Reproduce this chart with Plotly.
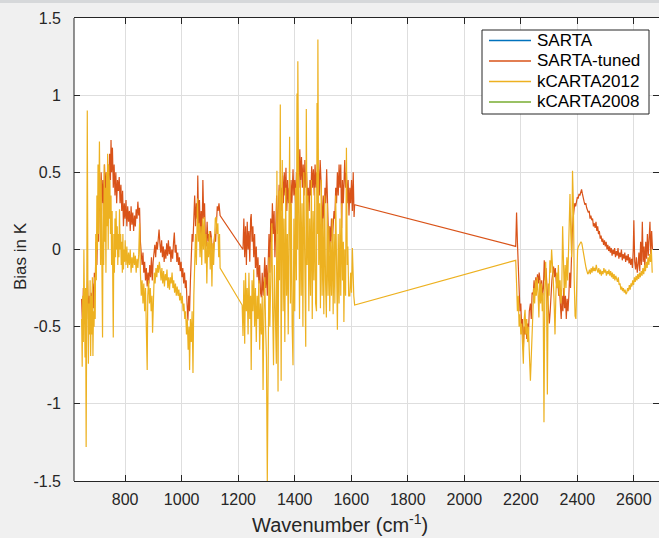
import plotly.graph_objects as go

# ---------------- data ----------------
# SARTA and kCARTA2008 show no visible marks in the reference (legend only)
sarta_wn = [650]
sarta_bias = [None]
k08_wn = [650]
k08_bias = [None]

series_names = ["SARTA", "SARTA-tuned", "kCARTA2012", "kCARTA2008"]
series_colors = ["#0072BD", "#D95319", "#EDB120", "#77AC30"]

tuned_wn = [
    646, 649, 652, 655, 658, 661, 664, 667, 670, 673, 676, 679, 682, 685, 688, 691, 694, 697, 700, 703,
    706, 709, 712, 715, 718, 721, 724, 727, 730, 733, 736, 739, 742, 745, 748, 750, 752, 755, 758, 761,
    764, 767, 770, 773, 776, 779, 782, 785, 788, 791, 794, 797, 800, 803, 806, 809, 812, 815, 818, 821,
    824, 827, 830, 833, 836, 839, 842, 845, 848, 851, 854, 857, 860, 863, 866, 869, 872, 875, 878, 881,
    884, 887, 890, 893, 896, 899, 902, 905, 908, 911, 914, 917, 920, 923, 926, 929, 932, 935, 938, 941,
    944, 947, 950, 953, 956, 959, 962, 965, 968, 971, 974, 977, 980, 983, 986, 989, 992, 995, 998, 1001,
    1004, 1007, 1010, 1013, 1016, 1019, 1022, 1025, 1028, 1031, 1034, 1037, 1040, 1043, 1046, 1049, 1052, 1055, 1057, 1060,
    1063, 1066, 1069, 1072, 1075, 1078, 1081, 1084, 1087, 1090, 1093, 1096, 1099, 1102, 1105, 1108, 1111, 1114, 1117, 1120,
    1123, 1126, 1129, 1132, 1136,
    1217, 1220, 1223, 1226, 1229, 1232, 1235, 1238, 1241, 1244, 1246, 1249, 1252, 1255, 1258, 1261, 1264, 1267, 1270, 1273,
    1276, 1279, 1282, 1285, 1288, 1291, 1294, 1297, 1300, 1303, 1306, 1309, 1312, 1315, 1318, 1321, 1324, 1327, 1330, 1333,
    1336, 1339, 1342, 1345, 1348, 1351, 1354, 1357, 1360, 1363, 1366, 1369, 1372, 1375, 1378, 1381, 1384, 1387, 1390, 1394,
    1397, 1400, 1403, 1406, 1409, 1412, 1415, 1418, 1421, 1424, 1427, 1430, 1433, 1436, 1439, 1442, 1445, 1448, 1451, 1454,
    1457, 1460, 1463, 1466, 1469, 1472, 1475, 1478, 1481, 1484, 1487, 1490, 1493, 1496, 1498, 1501, 1504, 1507, 1510, 1513,
    1516, 1519, 1521, 1524, 1527, 1530, 1533, 1536, 1539, 1542, 1545, 1548, 1551, 1554, 1557, 1560, 1563, 1566, 1569, 1572,
    1575, 1577, 1580, 1583, 1586, 1589, 1592, 1595, 1598, 1601, 1604, 1607, 1610, 1612,
    2182, 2185, 2188, 2191, 2194, 2197, 2200, 2203, 2206, 2209, 2212, 2215, 2218, 2221, 2224, 2227, 2230, 2234, 2237, 2240,
    2244, 2247, 2250, 2253, 2256, 2259, 2262, 2265, 2268, 2271, 2274, 2277, 2280, 2283, 2286, 2289, 2292, 2295, 2298, 2301,
    2304, 2307, 2310, 2313, 2316, 2319, 2322, 2325, 2328, 2331, 2334, 2337, 2340, 2343, 2346, 2349, 2352, 2355, 2358, 2361,
    2364, 2367, 2370, 2373, 2376, 2379, 2382, 2385, 2388, 2391, 2394, 2397, 2400, 2403, 2406, 2409, 2412, 2415, 2418, 2421,
    2424, 2427, 2430, 2433, 2436, 2439, 2442, 2445, 2448, 2451, 2454, 2457, 2460, 2463, 2466, 2469, 2472, 2475, 2478, 2481,
    2484, 2487, 2490, 2493, 2496, 2499, 2502, 2505, 2508, 2511, 2514, 2517, 2520, 2523, 2526, 2529, 2532, 2535, 2538, 2541,
    2544, 2547, 2550, 2553, 2556, 2559, 2562, 2565, 2568, 2571, 2574, 2577, 2580, 2583, 2586, 2589, 2592, 2595, 2598, 2600,
    2603, 2606, 2609, 2612, 2615, 2618, 2621, 2624, 2627, 2630, 2633, 2636, 2639, 2642, 2645, 2648, 2651, 2654, 2657, 2660,
    2663, 2666,
]
tuned_bias = [
    -0.32, -0.50, -0.25, -0.45, -0.30, -0.55, -0.35, -0.20, -0.45, -0.30, -0.50, -0.28, -0.42, -0.22, -0.38, -0.15, -0.25, 0.05, -0.10, 0.20,
    0.05, 0.40, 0.25, 0.50, 0.30, 0.45, 0.20, 0.55, 0.35, 0.50, 0.30, 0.55, 0.40, 0.62, 0.45, 0.71, 0.50, 0.66, 0.40, 0.55,
    0.35, 0.50, 0.30, 0.45, 0.38, 0.47, 0.30, 0.42, 0.25, 0.38, 0.15, 0.30, 0.20, 0.32, 0.15, 0.28, 0.18, 0.25, 0.12, 0.28,
    0.16, 0.24, 0.12, 0.22, 0.15, 0.26, 0.20, 0.31, 0.22, 0.27, 0.05, -0.05, -0.10, -0.02, -0.15, -0.08, -0.20, -0.12, -0.24, -0.15,
    -0.22, -0.10, -0.18, -0.05, -0.20, -0.08, -0.02, 0.03, -0.05, 0.05, 0.00, 0.08, 0.13, 0.04, -0.02, 0.06, -0.05, 0.02, -0.08, 0.00,
    -0.06, 0.04, -0.04, 0.06, -0.03, 0.02, -0.08, 0.00, -0.06, 0.04, 0.11, -0.02, 0.03, -0.08, -0.02, -0.10, -0.05, -0.14, -0.08, -0.18,
    -0.12, -0.22, -0.15, -0.25, -0.20, -0.35, -0.46, -0.30, -0.40, -0.20, -0.05, 0.10, 0.05, 0.25, 0.35, 0.15, 0.30, 0.20, 0.48, 0.15,
    0.32, 0.10, 0.25, 0.05, 0.45, 0.20, 0.30, 0.05, 0.02, 0.18, 0.05, 0.10, 0.03, 0.12, 0.08, -0.02, -0.07, 0.04, 0.10, 0.05,
    0.20, 0.28, 0.25, 0.30, 0.22,
    0.00, 0.20, -0.05, 0.15, -0.10, 0.18, 0.00, 0.12, -0.08, 0.20, 0.23, 0.05, 0.15, -0.05, 0.10, -0.12, 0.02, -0.18, -0.05, -0.22,
    -0.10, -0.28, -0.31, -0.15, -0.30, -0.20, -0.05, -0.25, -0.10, -0.30, -0.05, 0.10, -0.15, 0.20, 0.05, 0.30, 0.10, 0.25, -0.05, 0.20,
    0.35, 0.10, 0.30, 0.42, 0.20, 0.40, 0.25, 0.48, 0.30, 0.50, 0.35, 0.53, 0.25, 0.45, 0.30, 0.40, 0.20, 0.45, 0.30, 0.52,
    0.35, 0.45, 0.30, 0.50, 0.35, 0.55, 0.40, 0.65, 0.45, 0.60, 0.40, 0.55, 0.35, 0.58, 0.40, 0.50, 0.30, 0.40, 0.25, 0.45,
    0.35, 0.54, 0.40, 0.52, 0.35, 0.55, 0.40, 0.50, 0.30, 0.52, 0.35, 0.58, 0.45, 0.20, 0.13, 0.35, 0.20, 0.40, 0.30, 0.52,
    0.25, 0.10, -0.02, 0.15, 0.05, 0.20, 0.04, 0.15, 0.25, 0.20, 0.40, 0.30, 0.50, 0.35, 0.55, 0.40, 0.55, 0.14, 0.45, 0.30,
    0.50, 0.58, 0.40, 0.50, 0.30, 0.45, 0.22, 0.40, 0.30, 0.45, 0.25, 0.50, 0.21, 0.29,
    0.02, 0.24, 0.05, -0.15, -0.29, -0.40, -0.35, -0.50, -0.45, -0.65, -0.50, -0.55, -0.45, -0.58, -0.48, -0.55, -0.40, -0.35, -0.45, -0.28,
    -0.29, -0.20, -0.30, -0.18, -0.25, -0.16, -0.22, -0.15, -0.20, -0.28, -0.20, -0.30, -0.25, -0.07, -0.20, -0.12, -0.22, -0.30, -0.35, -0.48,
    -0.40, -0.26, -0.20, -0.15, -0.11, -0.18, -0.12, -0.20, -0.25, -0.18, -0.30, -0.26, -0.36, -0.45, -0.30, -0.40, -0.25, -0.38, -0.30, -0.45,
    -0.32, -0.40, -0.30, -0.15, -0.25, 0.00, 0.10, 0.20, 0.25, 0.30, 0.28, 0.32, 0.34, 0.33, 0.36, 0.35, 0.38, 0.39, 0.36, 0.32,
    0.31, 0.29, 0.30, 0.27, 0.26, 0.24, 0.25, 0.20, 0.22, 0.19, 0.20, 0.15, 0.17, 0.14, 0.18, 0.12, 0.15, 0.10, 0.12, 0.07,
    0.09, 0.05, 0.07, 0.03, 0.06, 0.02, 0.05, 0.00, 0.03, -0.01, 0.02, -0.02, 0.01, -0.04, 0.00, -0.03, 0.01, -0.05, -0.01, -0.04,
    0.01, -0.06, -0.02, -0.05, 0.00, -0.07, -0.03, -0.06, -0.02, -0.08, -0.04, -0.07, -0.03, -0.09, -0.05, -0.10, -0.06, -0.12, 0.00, 0.19,
    -0.08, -0.13, -0.05, -0.15, -0.10, -0.02, -0.14, 0.05, -0.10, 0.18, -0.08, 0.02, -0.12, 0.05, -0.06, 0.10, -0.04, 0.08, 0.18, -0.03,
    0.12, 0.00,
]

k12_wn = [
    646, 648, 650, 652, 654, 656, 658, 660, 662, 664, 666, 668, 670, 672, 674, 676, 678, 680, 682, 684,
    686, 688, 690, 692, 694, 696, 698, 700, 702, 704, 706, 709, 711, 713, 715, 717, 720, 722, 724, 726,
    728, 730, 732, 734, 736, 738, 740, 742, 744, 746, 748, 750, 752, 754, 756, 758, 760, 762, 764, 766,
    768, 770, 772, 774, 776, 778, 780, 782, 784, 786, 788, 790, 792, 794, 796, 798, 800, 803, 806, 809,
    812, 815, 818, 821, 824, 827, 830, 833, 836, 839, 842, 845, 848, 851, 854, 857, 860, 863, 866, 869,
    872, 875, 878, 880, 883, 886, 889, 892, 895, 897, 900, 903, 906, 909, 912, 915, 918, 921, 924, 927,
    930, 933, 936, 939, 942, 945, 948, 951, 954, 957, 960, 963, 966, 969, 972, 975, 978, 981, 984, 987,
    990, 993, 996, 999, 1002, 1005, 1008, 1011, 1014, 1017, 1020, 1023, 1026, 1028, 1031, 1034, 1037, 1040, 1043, 1046,
    1049, 1052, 1056, 1059, 1062, 1065, 1068, 1071, 1074, 1077, 1080, 1083, 1086, 1089, 1092, 1095, 1098, 1101, 1104, 1107,
    1110, 1113, 1116, 1119, 1122, 1125, 1128, 1131, 1134, 1136,
    1214, 1217, 1220, 1223, 1226, 1229, 1232, 1235, 1238, 1241, 1244, 1246, 1249, 1252, 1255, 1258, 1261, 1264, 1267, 1270,
    1273, 1276, 1279, 1282, 1285, 1288, 1291, 1294, 1297, 1300, 1303, 1306, 1309, 1312, 1315, 1319, 1322, 1325, 1328, 1332,
    1335, 1337, 1339, 1341, 1344, 1346, 1349, 1351, 1352, 1354, 1356, 1359, 1362, 1365, 1368, 1371, 1374, 1377, 1380, 1382,
    1385, 1388, 1391, 1394, 1397, 1400, 1403, 1406, 1408, 1410, 1411, 1414, 1417, 1420, 1423, 1426, 1429, 1432, 1435, 1439,
    1441, 1444, 1447, 1450, 1453, 1456, 1459, 1462, 1465, 1468, 1471, 1474, 1477, 1479, 1481, 1482, 1485, 1488, 1491, 1494,
    1497, 1500, 1503, 1506, 1509, 1512, 1515, 1518, 1521, 1524, 1527, 1530, 1533, 1536, 1539, 1542, 1545, 1548, 1551, 1554,
    1557, 1560, 1563, 1566, 1569, 1572, 1574, 1577, 1580, 1583, 1586, 1588, 1591, 1595, 1598, 1601, 1604, 1607, 1609, 1612,
    2182, 2185, 2188, 2191, 2194, 2197, 2200, 2203, 2206, 2209, 2212, 2215, 2218, 2221, 2224, 2227, 2230, 2234, 2237, 2240,
    2243, 2246, 2249, 2252, 2255, 2258, 2261, 2264, 2267, 2270, 2273, 2276, 2279, 2282, 2285, 2288, 2291, 2294, 2297, 2300,
    2303, 2306, 2309, 2312, 2315, 2318, 2321, 2324, 2327, 2330, 2333, 2336, 2339, 2342, 2345, 2348, 2351, 2354, 2357, 2360,
    2363, 2366, 2369, 2372, 2374, 2377, 2380, 2383, 2386, 2389, 2392, 2395, 2398, 2401, 2404, 2407, 2410, 2413, 2416, 2419,
    2422, 2425, 2428, 2431, 2434, 2437, 2440, 2443, 2446, 2449, 2452, 2455, 2458, 2461, 2464, 2467, 2470, 2473, 2476, 2479,
    2482, 2485, 2488, 2491, 2494, 2497, 2500, 2503, 2506, 2509, 2512, 2515, 2518, 2521, 2524, 2527, 2530, 2533, 2536, 2539,
    2542, 2545, 2548, 2551, 2554, 2557, 2560, 2563, 2566, 2569, 2572, 2575, 2578, 2581, 2584, 2587, 2590, 2593, 2596, 2599,
    2602, 2605, 2608, 2611, 2614, 2617, 2620, 2623, 2626, 2629, 2632, 2635, 2638, 2641, 2644, 2647, 2650, 2653, 2656, 2659,
    2662, 2665,
]
k12_bias = [
    -0.45, -0.76, -0.30, -0.60, 0.00, -0.40, -0.70, -0.25, -1.28, -0.40, 0.90, -0.20, -0.74, -0.35, -0.55, -0.20, -0.69, -0.30, -0.55, -0.18,
    -0.69, -0.40, -0.50, -0.18, -0.45, 0.10, -0.20, 0.35, 0.00, 0.55, 0.10, 0.70, 0.20, -0.10, 0.45, -0.20, -0.57, 0.30, -0.10, 0.55,
    0.05, 0.40, -0.15, 0.50, 0.15, 0.62, 0.00, 0.55, 0.20, 0.45, 0.10, 0.35, -0.10, 0.25, -0.30, -0.57, 0.10, -0.15, 0.20, -0.05,
    0.25, 0.00, 0.15, -0.10, 0.10, -0.05, 0.26, 0.00, 0.10, -0.10, 0.05, -0.15, 0.10, -0.13, 0.00, -0.08, 0.06, -0.10, 0.02, -0.12,
    -0.02, -0.10, 0.00, -0.15, -0.05, -0.12, -0.02, -0.10, -0.04, -0.15, -0.06, -0.12, -0.03, 0.17, -0.15, -0.30, -0.20, -0.35, -0.22, -0.40,
    -0.25, -0.45, -0.78, -0.30, -0.20, -0.35, -0.25, -0.40, -0.30, -0.54, -0.25, -0.15, -0.22, -0.12, -0.18, -0.10, -0.15, -0.08, -0.13, -0.20,
    -0.12, -0.22, -0.14, -0.24, -0.16, -0.20, -0.13, -0.25, -0.18, -0.26, -0.18, -0.22, -0.15, -0.25, -0.20, -0.28, -0.22, -0.30, -0.24, -0.30,
    -0.26, -0.33, -0.28, -0.35, -0.30, -0.40, -0.35, -0.45, -0.40, -0.55, -0.45, -0.65, -0.50, -0.78, -0.45, -0.60, -0.40, -0.80, -0.30, 0.00,
    0.10, -0.10, 0.33, 0.05, 0.17, -0.05, 0.15, -0.10, 0.20, 0.00, 0.21, -0.09, 0.10, -0.22, 0.05, -0.05, 0.12, -0.13, 0.08, -0.24,
    0.04, -0.10, 0.08, 0.20, 0.21, 0.10, 0.17, -0.05, 0.10, -0.12,
    -0.36, -0.56, -0.20, -0.61, -0.15, -0.40, -0.25, -0.55, -0.15, -0.45, -0.30, -0.78, -0.20, -0.40, -0.13, -0.50, -0.25, -0.60, -0.30, -0.45,
    -0.20, -0.65, -0.35, -0.55, -0.30, -0.91, -0.40, -0.18, -0.50, -0.70, -1.50, -0.30, -0.05, -0.50, -0.20, 0.17, -0.40, -0.75, -0.10, -0.60,
    -0.74, 0.51, -0.30, -0.92, 0.38, -0.20, 0.94, -0.50, -0.85, 0.10, 0.58, -0.40, 0.20, -0.60, 0.40, -0.30, 0.10, -0.55, 0.25, 0.73,
    -0.35, 0.30, -0.50, -0.75, 0.20, -0.40, 0.40, -0.20, 1.01, 0.00, 1.22, 0.10, -0.45, 0.45, -0.30, 0.30, -0.50, 0.50, -0.20, -0.63,
    0.91, -0.10, 0.35, -0.40, 0.20, -0.30, 0.45, -0.45, 0.25, -0.20, 0.40, -0.35, -0.40, 0.95, 0.10, 1.36, -0.10, 0.30, -0.38, 0.45,
    -0.30, 0.20, -0.42, 0.35, -0.20, -0.44, 0.30, -0.30, 0.15, -0.40, 0.05, -0.30, 0.20, -0.42, 0.10, -0.35, 0.35, -0.25, -0.52, 0.10,
    -0.35, 0.20, -0.30, 0.30, -0.20, 0.05, -0.47, 0.00, -0.30, 0.66, -0.10, 0.02, -0.30, -0.30, -0.15, -0.28, 0.01, -0.20, -0.30, -0.36,
    -0.07, -0.22, -0.40, -0.30, -0.50, -0.42, -0.55, -0.48, -0.62, -0.74, -0.45, -0.39, -0.55, -0.45, -0.60, -0.50, -0.66, -0.85, -0.70, -0.55,
    -0.45, -0.25, -0.35, -0.20, -0.30, -0.18, -0.28, -0.44, -0.20, -0.35, -0.22, -0.40, -0.28, -1.12, -0.26, -0.08, -0.30, -0.94, -0.22, -0.30,
    -0.07, -0.15, 0.00, -0.09, -0.20, -0.35, -0.55, -0.30, -0.15, -0.25, -0.10, -0.30, -0.20, -0.35, -0.25, 0.15, -0.20, -0.30, -0.10, -0.25,
    -0.05, -0.20, 0.00, 0.20, 0.36, 0.10, -0.05, 0.51, 0.30, -0.20, -0.43, -0.45, -0.10, 0.00, 0.02, 0.03, 0.04, 0.05, 0.04, 0.00,
    -0.03, -0.06, -0.09, -0.12, -0.14, -0.16, -0.15, -0.13, -0.16, -0.12, -0.15, -0.11, -0.14, -0.12, -0.14, -0.10, -0.13, -0.15, -0.12, -0.16,
    -0.13, -0.17, -0.14, -0.16, -0.12, -0.15, -0.13, -0.17, -0.14, -0.16, -0.13, -0.17, -0.14, -0.18, -0.15, -0.19, -0.16, -0.20, -0.17, -0.19,
    -0.21, -0.18, -0.23, -0.22, -0.26, -0.24, -0.27, -0.25, -0.28, -0.26, -0.29, -0.28, -0.25, -0.27, -0.23, -0.26, -0.22, -0.24, -0.20, -0.23,
    -0.18, -0.21, -0.17, -0.20, -0.16, -0.19, -0.15, -0.18, -0.14, -0.17, -0.12, -0.16, -0.10, -0.14, -0.08, -0.12, -0.05, -0.10, -0.03, -0.08,
    0.00, -0.15,
]

x_ticks = [800, 1000, 1200, 1400, 1600, 1800, 2000, 2200, 2400, 2600]
y_ticks = [-1.5, -1, -0.5, 0, 0.5, 1, 1.5]
y_tick_text = ["-1.5", "-1", "-0.5", "0", "0.5", "1", "1.5"]

# ---------------- figure ----------------
FONT = "Liberation Sans, Arial, Helvetica, sans-serif"
AX = "#262626"
W, H = 659, 538
ML, MR, MT, MB = 74, 0, 18, 57
PW, PH = W - ML - MR, H - MT - MB


def px2paper_x(px):
    return (px - ML) / PW


def px2paper_y(py):
    return (H - MB - py) / PH


fig = go.Figure()
data = [(sarta_wn, sarta_bias), (tuned_wn, tuned_bias), (k12_wn, k12_bias), (k08_wn, k08_bias)]
for (xs, ys), name, col in zip(data, series_names, series_colors):
    fig.add_trace(go.Scatter(x=xs, y=ys, mode="lines", name=name,
                             line=dict(color=col, width=1.2), showlegend=False))

# legend box drawn MATLAB-style (box, short line samples, labels)
LEG_X0, LEG_X1, LEG_Y0, LEG_Y1 = 482, 649, 30, 114
row_y = [40.5, 61.0, 81.5, 102.0]
shapes = [
    dict(type="line", xref="paper", yref="paper", x0=0, x1=0, y0=0, y1=1,
         line=dict(color=AX, width=1)),
    dict(type="rect", xref="paper", yref="paper",
         x0=px2paper_x(0), x1=px2paper_x(W), y0=px2paper_y(3), y1=px2paper_y(0),
         fillcolor="#d6d8da", line=dict(width=0), layer="above"),
    dict(type="rect", xref="paper", yref="paper",
         x0=px2paper_x(LEG_X0), x1=px2paper_x(LEG_X1), y0=px2paper_y(LEG_Y1), y1=px2paper_y(LEG_Y0),
         fillcolor="white", line=dict(color=AX, width=1), layer="above"),
]
annotations = []
for ry, name, col in zip(row_y, series_names, series_colors):
    shapes.append(dict(type="line", xref="paper", yref="paper",
                       x0=px2paper_x(489), x1=px2paper_x(531), y0=px2paper_y(ry), y1=px2paper_y(ry),
                       line=dict(color=col, width=1.5), layer="above"))
    annotations.append(dict(text=name, xref="paper", yref="paper",
                            x=px2paper_x(535), y=px2paper_y(ry), xanchor="left", yanchor="middle",
                            showarrow=False, font=dict(family=FONT, size=17, color="black")))

annotations += [
    dict(text="Bias in K", xref="paper", yref="paper",
         x=px2paper_x(20), y=px2paper_y(256), textangle=-90,
         showarrow=False, xanchor="center", yanchor="middle",
         font=dict(family=FONT, size=17, color=AX)),
    dict(text="Wavenumber (cm<sup>-1</sup>)", xref="paper", yref="paper",
         x=px2paper_x(340), y=px2paper_y(523),
         showarrow=False, xanchor="center", yanchor="middle",
         font=dict(family=FONT, size=20, color=AX)),
]

fig.update_layout(
    width=W, height=H,
    margin=dict(l=ML, r=MR, t=MT, b=MB, pad=0),
    paper_bgcolor="#f0f0f0",
    plot_bgcolor="white",
    font=dict(family=FONT, size=16, color=AX),
    showlegend=False,
    xaxis=dict(
        range=[619, 2689], tickmode="array", tickvals=x_ticks,
        ticks="inside", ticklen=6, tickwidth=1, tickcolor=AX,
        showline=True, linecolor=AX, linewidth=1, mirror="ticks",
        showgrid=True, gridcolor="#dedede", gridwidth=1,
        zeroline=False, automargin=False,
        tickfont=dict(family=FONT, size=16, color=AX),
        ticklabelstandoff=4,
    ),
    yaxis=dict(
        range=[-1.5, 1.5], tickmode="array", tickvals=y_ticks, ticktext=y_tick_text,
        ticks="inside", ticklen=6, tickwidth=1, tickcolor=AX,
        showline=False, mirror="ticks",
        showgrid=True, gridcolor="#dedede", gridwidth=1,
        zeroline=False, automargin=False,
        tickfont=dict(family=FONT, size=16, color=AX),
        ticklabelstandoff=12,
    ),
    annotations=annotations,
    shapes=shapes,
)

fig.write_html("out.html")
